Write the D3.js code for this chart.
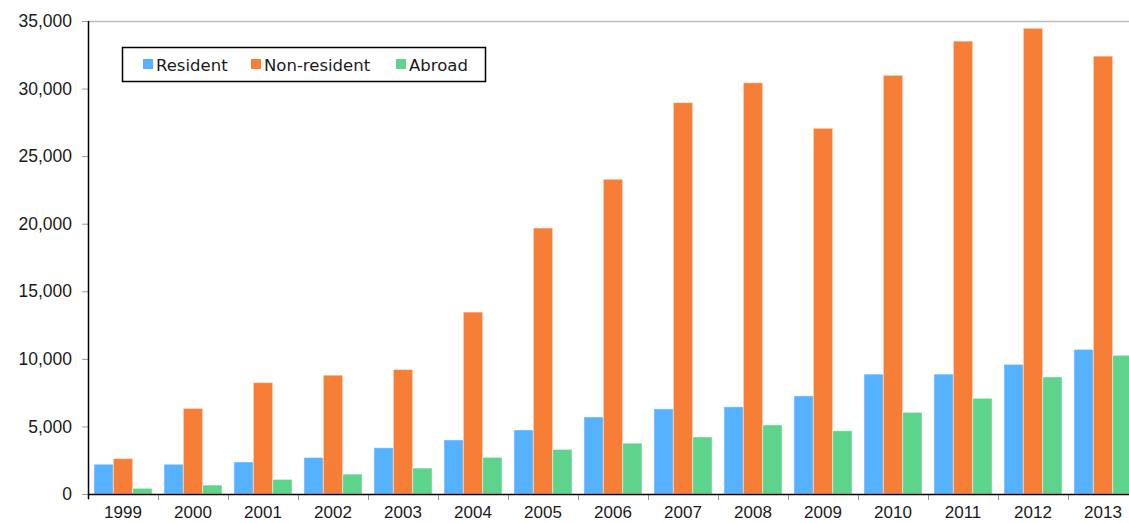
<!DOCTYPE html>
<html>
<head>
<meta charset="utf-8">
<script src="https://cdn.jsdelivr.net/npm/d3@7"></script>
<style>
  body { margin: 0; background: #fff; }
  svg { display: block; font-family: "DejaVu Sans", Verdana, sans-serif; }
</style>
</head>
<body>
<script>
var years = ["1999", "2000", "2001", "2002", "2003", "2004", "2005", "2006", "2007", "2008", "2009", "2010", "2011", "2012", "2013"];
var seriesNames = ["Resident", "Non-resident", "Abroad"];
var resident = [2200, 2200, 2370, 2700, 3420, 4000, 4740, 5700, 6300, 6450, 7260, 8870, 8870, 9590, 10700];
var nonResident = [2620, 6330, 8240, 8790, 9210, 13460, 19680, 23290, 28960, 30430, 27060, 30980, 33510, 34460, 32400];
var abroad = [420, 660, 1080, 1470, 1920, 2710, 3300, 3760, 4220, 5110, 4680, 6040, 7080, 8660, 10260];
var yTicks = [0, 5000, 10000, 15000, 20000, 25000, 30000, 35000];
var colors = ["#56b1fe", "#f77e36", "#5ed38b"];

var svgWidth = 1129;
var svgHeight = 523;
var chartMargin = { top: 21, left: 88 };
var chartWidth = 1050;
var chartHeight = 473;

var data = years.map(function (y, i) {
    return { year: y, values: [resident[i], nonResident[i], abroad[i]] };
});

var svg = d3.select("body").append("svg")
    .attr("width", svgWidth)
    .attr("height", svgHeight)
    .style("overflow", "hidden");

var chartGroup = svg.append("g")
    .attr("transform", `translate(${chartMargin.left}, ${chartMargin.top})`);

var xBandScale = d3.scaleBand()
    .domain(years)
    .range([0, chartWidth])
    .paddingInner(0)
    .paddingOuter(0);

var xInner = d3.scaleBand()
    .domain(seriesNames)
    .range([6, xBandScale.bandwidth() - 6]);

var yLinearScale = d3.scaleLinear()
    .domain([0, 35000])
    .range([chartHeight, 0]);

// top gridline
chartGroup.append("line")
    .attr("x1", 0).attr("x2", chartWidth)
    .attr("y1", yLinearScale(35000) + 0.5).attr("y2", yLinearScale(35000) + 0.5)
    .attr("stroke", "#bbb").attr("stroke-width", 1.5);

// bars
var groups = chartGroup.selectAll(".year")
    .data(data)
    .enter()
    .append("g")
    .attr("class", "year")
    .attr("transform", d => `translate(${xBandScale(d.year)}, 0)`);

groups.selectAll("rect")
    .data(d => d.values.map((v, i) => ({ name: seriesNames[i], value: v, i: i })))
    .enter()
    .append("rect")
    .attr("x", d => xInner(d.name))
    .attr("y", d => yLinearScale(d.value))
    .attr("width", xInner.bandwidth())
    .attr("height", d => chartHeight - yLinearScale(d.value))
    .attr("fill", d => colors[d.i])
    .attr("stroke", "#fff")
    .attr("stroke-opacity", 0.45)
    .attr("stroke-width", 1);

// axes
var leftAxis = d3.axisLeft(yLinearScale)
    .tickValues(yTicks)
    .tickSize(6)
    .tickPadding(10)
    .tickFormat(d3.format(","));

var yAxisG = chartGroup.append("g").call(leftAxis);
yAxisG.select(".domain").remove();
yAxisG.selectAll(".tick line").attr("stroke", "#999");
yAxisG.selectAll(".tick text")
    .attr("fill", "#1a1a1a")
    .style("font-size", "17.5px");

var bottomAxis = d3.axisBottom(xBandScale).tickSize(0).tickPadding(12);
var xAxisG = chartGroup.append("g")
    .attr("transform", `translate(0, ${chartHeight})`)
    .call(bottomAxis);
xAxisG.select(".domain").remove();
xAxisG.selectAll(".tick text")
    .attr("fill", "#1a1a1a")
    .style("font-size", "17px");

// category separators on x axis
chartGroup.selectAll(".xsep")
    .data(years)
    .enter()
    .append("line")
    .attr("class", "xsep")
    .attr("x1", d => xBandScale(d) + 0.5)
    .attr("x2", d => xBandScale(d) + 0.5)
    .attr("y1", chartHeight)
    .attr("y2", chartHeight + 6)
    .attr("stroke", "#999");

// axis lines
chartGroup.append("line")
    .attr("x1", 0.5).attr("x2", 0.5)
    .attr("y1", 0).attr("y2", chartHeight + 5)
    .attr("stroke", "#000").attr("stroke-width", 1.5);
chartGroup.append("line")
    .attr("x1", 0).attr("x2", chartWidth)
    .attr("y1", chartHeight + 0.5).attr("y2", chartHeight + 0.5)
    .attr("stroke", "#000").attr("stroke-width", 1.5);

// legend
var legend = svg.append("g").attr("transform", "translate(122, 47)");
legend.append("rect")
    .attr("x", 0.5).attr("y", 0.5)
    .attr("width", 363).attr("height", 34)
    .attr("fill", "#fff")
    .attr("stroke", "#000")
    .attr("stroke-width", 1.5);

var legendX = [21, 129, 274];
var items = legend.selectAll(".item")
    .data(seriesNames)
    .enter()
    .append("g")
    .attr("class", "item")
    .attr("transform", (d, i) => `translate(${legendX[i]}, 0)`);
items.append("rect")
    .attr("x", 0).attr("y", 12)
    .attr("width", 10).attr("height", 10)
    .attr("fill", (d, i) => colors[i]);
items.append("text")
    .attr("x", 13).attr("y", 24)
    .attr("fill", "#1a1a1a")
    .style("font-size", "16.5px")
    .text(d => d);
</script>
</body>
</html>
